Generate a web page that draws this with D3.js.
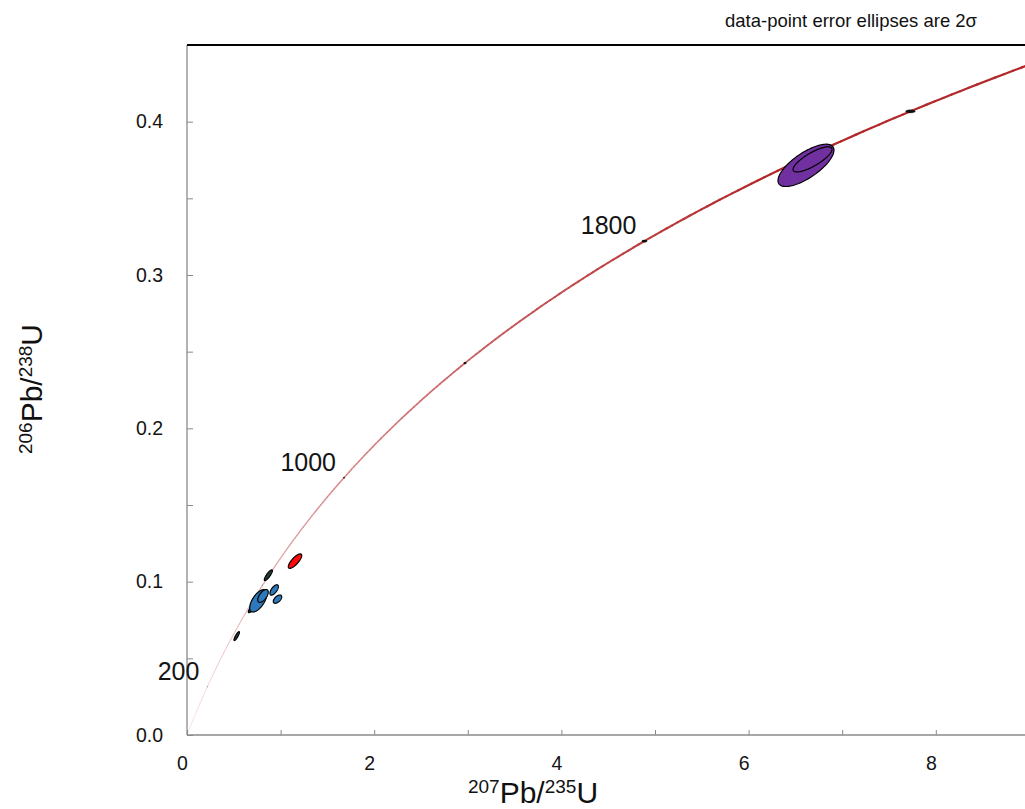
<!DOCTYPE html>
<html>
<head>
<meta charset="utf-8">
<script src="https://cdn.jsdelivr.net/npm/d3@7"></script>
<style>
  html, body { margin: 0; padding: 0; background: #fff; }
  svg { display: block; font-family: "Liberation Sans", Arial, sans-serif; }
</style>
</head>
<body>
<svg id="chart" width="1025" height="809"></svg>
<script>
// U-Pb data: 2-sigma error ellipses (x = 207Pb/235U, y = 206Pb/238U)
const ellipseX   = [0.531, 0.691, 0.762, 0.812, 0.931, 0.967, 0.869, 1.154, 6.613, 6.683];
const ellipseY   = [0.0645, 0.0823, 0.0875, 0.0907, 0.0946, 0.0886, 0.1042, 0.1134, 0.3715, 0.3754];
const ellipseSX  = [0.029, 0.036, 0.092, 0.056, 0.045, 0.045, 0.043, 0.0716, 0.299, 0.208];
const ellipseSY  = [0.0029, 0.0025, 0.0073, 0.0042, 0.0034, 0.0027, 0.0035, 0.0047, 0.0138, 0.0082];
const ellipseRho = [0.85, 0.8, 0.62, 0.6, 0.65, 0.55, 0.85, 0.78, 0.72, 0.8];
const ellipseGroup = ["dark", "dark", "blue", "blue", "blue", "blue", "dark", "red", "purple", "purple"];

// Concordia age marks (Ma) and the ones that carry a label
const ageMarks  = [200, 600, 1000, 1400, 1800, 2200];
const ageLabels = [200, 1000, 1800];

// Axis ticks
const xTicks = [0, 1, 2, 3, 4, 5, 6, 7, 8, 9];
const xTickLabels = [0, 2, 4, 6, 8];
const yTicks = [0, 0.05, 0.1, 0.15, 0.2, 0.25, 0.3, 0.35, 0.4];
const yTickLabels = [0, 0.1, 0.2, 0.3, 0.4];

// Decay constants (per year) and 1-sigma relative uncertainties
const L238 = 1.55125e-10, L235 = 9.8485e-10;
const L238err = 0.00107, L235err = 0.00136;

const groupFill = { dark: "#243b3b", blue: "#2e79b9", red: "#ff0a0a", purple: "#7030a0" };

const svg = d3.select("#chart");
const mLeft = 187, mBottom = 735, mTop = 45, mRight = 1025;

const x = d3.scaleLinear().domain([0, 10]).range([mLeft, mLeft + 936]);
const y = d3.scaleLinear().domain([0, 0.45]).range([mBottom, mTop]);

svg.append("defs").append("clipPath").attr("id", "plotClip")
  .append("rect").attr("x", mLeft).attr("y", mTop - 2)
  .attr("width", mRight - mLeft).attr("height", mBottom - mTop + 2);

const plot = svg.append("g").attr("clip-path", "url(#plotClip)");

// Concordia curve, drawn in short pieces so its band thickens with age
const conc = t => [Math.exp(L235 * t * 1e6) - 1, Math.exp(L238 * t * 1e6) - 1];
const tMax = 2600, step = 10;
const colorAt = d3.interpolateRgb("#f8e0e0", "#b3292b");
for (let t = 0; t < tMax; t += step) {
  const a = conc(t), b = conc(t + step);
  const f = Math.min((t + step / 2) / 2000, 1);
  plot.append("line")
    .attr("x1", x(a[0])).attr("y1", y(a[1]))
    .attr("x2", x(b[0])).attr("y2", y(b[1]))
    .attr("stroke", colorAt(Math.pow(f, 1.1)))
    .attr("stroke-width", 0.7 + 1.5 * f)
    .attr("stroke-linecap", "round");
}

// Ellipse outline from centre, 2-sigma half widths and error correlation
function ellipsePath(cx, cy, sx, sy, rho) {
  const pts = d3.range(0, 121).map(i => {
    const a = i / 120 * 2 * Math.PI;
    return [x(cx + sx * Math.cos(a)),
            y(cy + sy * (rho * Math.cos(a) + Math.sqrt(1 - rho * rho) * Math.sin(a)))];
  });
  return d3.line()(pts) + "Z";
}

// Age marks: 2-sigma decay-constant uncertainty ellipses on the curve
ageMarks.forEach(age => {
  const [cx, cy] = conc(age);
  const tt = age * 1e6;
  const sx = 2 * tt * L235 * L235err * Math.exp(L235 * tt);
  const sy = 2 * tt * L238 * L238err * Math.exp(L238 * tt);
  plot.append("path")
    .attr("d", ellipsePath(cx, cy, Math.max(sx, 0.003), Math.max(sy, 0.0004), 0))
    .attr("fill", "#111").attr("stroke", "#111").attr("stroke-width", 0.3)
    .attr("opacity", age < 800 ? 0.35 : 1);
});

// Data ellipses
ellipseX.forEach((cx, i) => {
  plot.append("path")
    .attr("d", ellipsePath(cx, ellipseY[i], ellipseSX[i], ellipseSY[i], ellipseRho[i]))
    .attr("fill", groupFill[ellipseGroup[i]])
    .attr("stroke", "#000").attr("stroke-width", 1.2);
});

// Axes with inward ticks
const yAxis = d3.axisLeft(y).tickValues(yTicks).tickSize(-6).tickPadding(24)
  .tickFormat(d => yTickLabels.some(v => Math.abs(v - d) < 1e-9) ? d3.format(".1f")(d) : "");
const gy = svg.append("g").attr("transform", `translate(${mLeft},0)`).call(yAxis);
gy.select(".domain").remove();
gy.selectAll(".tick line").attr("stroke", "#8a8a8a");
gy.selectAll(".tick text").attr("font-size", 19.5).attr("fill", "#141414")
  .attr("font-family", "Liberation Sans, Arial, sans-serif");

const xAxis = d3.axisBottom(x).tickValues(xTicks).tickSize(-5).tickPadding(21)
  .tickFormat(d => xTickLabels.includes(d) ? d3.format("d")(d) : "");
const gx = svg.append("g").attr("transform", `translate(0,${mBottom})`).call(xAxis);
gx.select(".domain").remove();
gx.selectAll(".tick line").attr("stroke", "#8a8a8a");
gx.selectAll(".tick text").attr("font-size", 19.5).attr("fill", "#141414").attr("dx", -5)
  .attr("font-family", "Liberation Sans, Arial, sans-serif");

// Frame: grey left and bottom axis lines, black top line
svg.append("line").attr("x1", mLeft).attr("x2", mLeft).attr("y1", mTop).attr("y2", mBottom)
  .attr("stroke", "#8a8a8a").attr("stroke-width", 1.3);
svg.append("line").attr("x1", mLeft).attr("x2", mRight).attr("y1", mBottom).attr("y2", mBottom)
  .attr("stroke", "#8a8a8a").attr("stroke-width", 1.3);
svg.append("line").attr("x1", mLeft).attr("x2", mRight).attr("y1", mTop).attr("y2", mTop)
  .attr("stroke", "#000").attr("stroke-width", 2);

// Age labels
ageLabels.forEach(age => {
  const [cx, cy] = conc(age);
  svg.append("text")
    .attr("x", x(cx) - 8).attr("y", y(cy) - 7)
    .attr("text-anchor", "end").attr("font-size", 25).attr("fill", "#141414")
    .text(age);
});

// Axis titles with isotope superscripts
function isotopeTitle(g, massA, massB) {
  const t = g.append("text").attr("text-anchor", "middle").attr("fill", "#111");
  t.append("tspan").attr("font-size", 19).attr("dy", -10).text(massA);
  t.append("tspan").attr("font-size", 30).attr("dy", 10).text("Pb/");
  t.append("tspan").attr("font-size", 19).attr("dy", -10).text(massB);
  t.append("tspan").attr("font-size", 30).attr("dy", 10).text("U");
  return t;
}
isotopeTitle(svg.append("g").attr("transform", "translate(533,803)"), "207", "235");
isotopeTitle(svg.append("g").attr("transform", "translate(42,389) rotate(-90)"), "206", "238");

// Note in the top right corner
svg.append("text").attr("x", 851).attr("y", 27).attr("text-anchor", "middle")
  .attr("font-size", 18.5).attr("fill", "#111")
  .text("data-point error ellipses are 2σ");
</script>
</body>
</html>
